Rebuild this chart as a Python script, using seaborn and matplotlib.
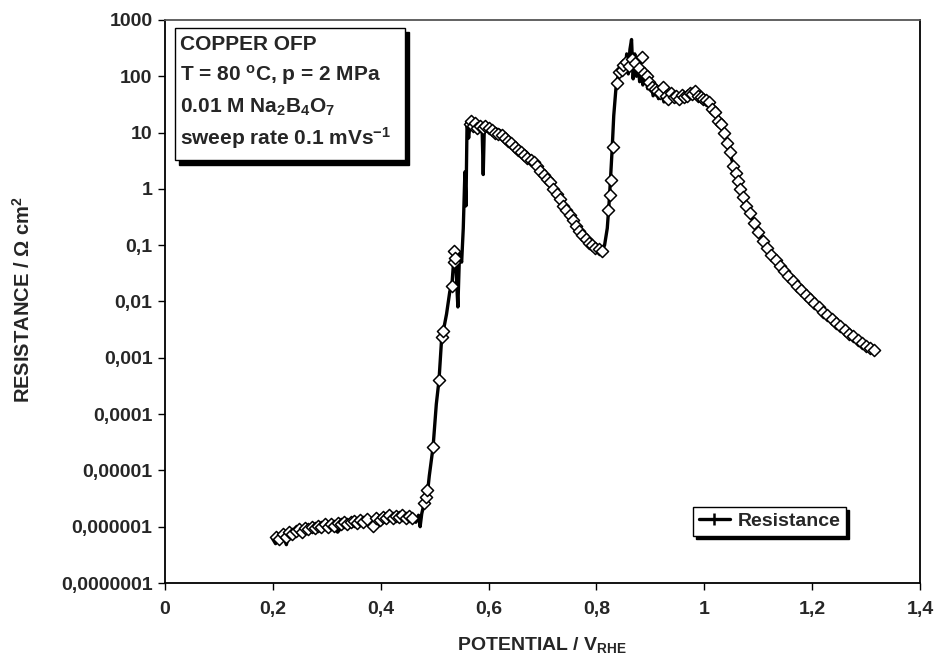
import numpy as np
import pandas as pd
import seaborn as sns
import matplotlib.pyplot as plt
from matplotlib.lines import Line2D
from matplotlib.patches import Rectangle
from matplotlib.ticker import NullLocator

# ---------------- data ----------------
line_potential = [
    0.200, 0.205, 0.210, 0.215, 0.220, 0.225, 0.230, 0.240, 0.250, 0.260,
    0.270, 0.280, 0.290, 0.300, 0.310, 0.320, 0.330, 0.340, 0.350, 0.360,
    0.370, 0.380, 0.390, 0.400, 0.410, 0.420, 0.430, 0.440, 0.450, 0.460,
    0.465, 0.470, 0.473, 0.476, 0.480, 0.486, 0.490, 0.497, 0.503, 0.508,
    0.513, 0.516, 0.522, 0.528, 0.532, 0.535, 0.538, 0.540, 0.543, 0.546,
    0.550, 0.553, 0.556, 0.558, 0.560, 0.563, 0.566, 0.570, 0.575, 0.580,
    0.585, 0.588, 0.590, 0.592, 0.600, 0.610, 0.620, 0.630, 0.640, 0.650,
    0.660, 0.670, 0.680, 0.690, 0.700, 0.710, 0.720, 0.730, 0.740, 0.750,
    0.760, 0.770, 0.780, 0.790, 0.800, 0.810, 0.815, 0.820, 0.823, 0.826,
    0.829, 0.832, 0.836, 0.840, 0.845, 0.850, 0.853, 0.856, 0.859, 0.862,
    0.865, 0.868, 0.871, 0.874, 0.877, 0.880, 0.883, 0.886, 0.890, 0.895,
    0.900, 0.905, 0.910, 0.915, 0.920, 0.925, 0.930, 0.935, 0.940, 0.945,
    0.950, 0.955, 0.960, 0.965, 0.970, 0.975, 0.980, 0.985, 0.990, 0.995,
    1.000, 1.005, 1.010, 1.020, 1.030, 1.040, 1.050, 1.060, 1.070, 1.080,
    1.090, 1.100, 1.110, 1.120, 1.130, 1.140, 1.150, 1.160, 1.170, 1.180,
    1.190, 1.200, 1.210, 1.220, 1.230, 1.240, 1.250, 1.260, 1.270, 1.280,
    1.290, 1.300, 1.310, 1.315,
]
line_resistance = [
    6.0e-7, 5.0e-7, 7.0e-7, 5.5e-7, 6.5e-7, 4.8e-7, 7.5e-7, 7.0e-7, 8.5e-7, 8.0e-7,
    9.5e-7, 8.5e-7, 1.0e-6, 9.0e-7, 1.05e-6, 8.0e-7, 1.05e-6, 1.0e-6, 1.1e-6, 1.2e-6,
    1.05e-6, 1.3e-6, 1.2e-6, 1.45e-6, 1.3e-6, 1.5e-6, 1.4e-6, 1.6e-6, 1.35e-6, 1.55e-6,
    1.2e-6, 1.6e-6, 1.0e-6, 1.7e-6, 2.5e-6, 3.5e-6, 8e-6, 2.6e-5, 1.5e-4, 4e-4,
    2.3e-3, 3.0e-3, 6e-3, 1.5e-2, 2.0e-2, 5e-2, 8e-2, 3e-2, 8e-3, 7e-2,
    5e-2, 0.2, 2.0, 0.5, 15, 8, 16, 14, 15, 12,
    13, 11, 1.8, 12, 13, 12, 11, 9, 7, 6,
    5, 4.5, 3.5, 3, 2.2, 1.6, 1.2, 0.8, 0.55, 0.38,
    0.25, 0.18, 0.13, 0.11, 0.085, 0.08, 0.1, 0.2, 0.5, 1.5,
    5, 20, 60, 100, 140, 180, 120, 250, 110, 300,
    450, 90, 250, 100, 180, 80, 150, 70, 110, 60,
    90, 45, 70, 40, 55, 35, 50, 38, 55, 35,
    45, 40, 50, 38, 55, 42, 60, 40, 55, 45,
    35, 40, 30, 25, 15, 8, 3.5, 1.8, 0.8, 0.45,
    0.28, 0.17, 0.11, 0.08, 0.06, 0.045, 0.034, 0.026, 0.020, 0.016,
    0.013, 0.010, 0.0082, 0.0066, 0.0055, 0.0045, 0.0037, 0.0031, 0.0026, 0.0022,
    0.0019, 0.0016, 0.0014, 0.0013,
]

marker_potential = [
    0.205, 0.212, 0.218, 0.224, 0.230, 0.236, 0.242, 0.248, 0.254, 0.260,
    0.266, 0.272, 0.278, 0.284, 0.290, 0.296, 0.302, 0.308, 0.314, 0.320,
    0.326, 0.332, 0.338, 0.344, 0.350, 0.356, 0.362, 0.368, 0.374, 0.386,
    0.392, 0.398, 0.404, 0.410, 0.416, 0.422, 0.428, 0.434, 0.440, 0.446,
    0.452, 0.458, 0.480, 0.484, 0.486, 0.497, 0.508, 0.513, 0.515, 0.532,
    0.535, 0.536, 0.537, 0.566, 0.568, 0.571, 0.575, 0.579, 0.584, 0.589,
    0.594, 0.600, 0.606, 0.612, 0.618, 0.624, 0.630, 0.636, 0.642, 0.648,
    0.654, 0.660, 0.666, 0.672, 0.678, 0.684, 0.690, 0.696, 0.702, 0.708,
    0.714, 0.720, 0.726, 0.732, 0.738, 0.744, 0.750, 0.756, 0.762, 0.768,
    0.774, 0.780, 0.786, 0.792, 0.798, 0.804, 0.810, 0.822, 0.825, 0.827,
    0.830, 0.838, 0.842, 0.847, 0.850, 0.855, 0.860, 0.866, 0.872, 0.878,
    0.884, 0.888, 0.893, 0.898, 0.903, 0.908, 0.913, 0.918, 0.923, 0.928,
    0.933, 0.938, 0.943, 0.948, 0.953, 0.958, 0.963, 0.968, 0.973, 0.978,
    0.983, 0.988, 0.993, 0.998, 1.003, 1.008, 1.014, 1.020, 1.026, 1.030,
    1.036, 1.042, 1.048, 1.054, 1.058, 1.062, 1.066, 1.072, 1.078, 1.085,
    1.092, 1.100, 1.108, 1.116, 1.124, 1.132, 1.140, 1.148, 1.156, 1.164,
    1.172, 1.180, 1.188, 1.196, 1.204, 1.212, 1.220, 1.228, 1.236, 1.244,
    1.252, 1.260, 1.268, 1.276, 1.284, 1.292, 1.300, 1.308, 1.314,
]
marker_resistance = [
    6.5e-7, 6.0e-7, 7.5e-7, 6.5e-7, 8.0e-7, 7.5e-7, 8.5e-7, 9.0e-7, 8.0e-7, 9.5e-7,
    9.0e-7, 1.0e-6, 9.5e-7, 1.05e-6, 1.0e-6, 1.1e-6, 1.0e-6, 1.1e-6, 1.05e-6, 1.15e-6,
    1.1e-6, 1.2e-6, 1.1e-6, 1.2e-6, 1.25e-6, 1.15e-6, 1.3e-6, 1.2e-6, 1.35e-6, 1.05e-6,
    1.4e-6, 1.3e-6, 1.5e-6, 1.4e-6, 1.6e-6, 1.45e-6, 1.55e-6, 1.5e-6, 1.6e-6, 1.45e-6,
    1.55e-6, 1.4e-6, 2.6e-6, 3.4e-6, 4.5e-6, 2.6e-5, 4.1e-4, 2.3e-3, 3.0e-3, 1.9e-2,
    5.0e-2, 7.8e-2, 6.0e-2, 14, 16, 13, 15, 12, 13, 12,
    13, 12, 11, 10, 9.5, 9, 8, 7, 6.5, 5.5,
    5, 4.5, 4, 3.5, 3.3, 3, 2.5, 2.1, 1.8, 1.5,
    1.3, 1.0, 0.8, 0.65, 0.5, 0.42, 0.35, 0.28, 0.22, 0.18,
    0.15, 0.13, 0.11, 0.1, 0.09, 0.085, 0.08, 0.42, 0.78, 1.45,
    5.6, 77, 120, 130, 160, 180, 150, 200, 170, 140,
    220, 115, 100, 80, 65, 60, 55, 50, 65, 45,
    40, 50, 42, 45, 40, 47, 42, 45, 50, 48,
    55, 45, 42, 40, 38, 35, 26, 23, 16, 14,
    10, 6.6, 4.5, 2.5, 1.9, 1.4, 1.0, 0.73, 0.5, 0.37,
    0.25, 0.17, 0.12, 0.09, 0.068, 0.055, 0.043, 0.035, 0.028, 0.023,
    0.019, 0.016, 0.013, 0.011, 0.0093, 0.0079, 0.0066, 0.0057, 0.0049, 0.0042,
    0.0036, 0.0031, 0.0027, 0.0024, 0.0021, 0.0018, 0.0016, 0.0015, 0.0014,
]

x_ticks = [0, 0.2, 0.4, 0.6, 0.8, 1.0, 1.2, 1.4]
x_tick_labels = ["0", "0,2", "0,4", "0,6", "0,8", "1", "1,2", "1,4"]
y_ticks = [1e-7, 1e-6, 1e-5, 1e-4, 1e-3, 1e-2, 1e-1, 1, 10, 100, 1000]
y_tick_labels = ["0,0000001", "0,000001", "0,00001", "0,0001", "0,001",
                 "0,01", "0,1", "1", "10", "100", "1000"]

info_lines = [
    "COPPER OFP",
    r"T = 80 $^{\mathrm{o}}$C, p = 2 MPa",
    r"0.01 M Na$_{\mathrm{2}}$B$_{\mathrm{4}}$O$_{\mathrm{7}}$",
    r"sweep rate 0.1 mVs$^{\mathrm{-1}}$",
]

# ---------------- style ----------------
sns.set_style("white")
plt.rcParams["font.family"] = ["Liberation Sans", "DejaVu Sans"]
plt.rcParams["font.weight"] = "bold"
plt.rcParams["mathtext.fontset"] = "custom"
plt.rcParams["mathtext.rm"] = "Liberation Sans:bold"
plt.rcParams["mathtext.it"] = "Liberation Sans:bold"
plt.rcParams["mathtext.bf"] = "Liberation Sans:bold"
plt.rcParams["mathtext.default"] = "rm"

df_line = pd.DataFrame({"potential": line_potential, "resistance": line_resistance})
df_mark = pd.DataFrame({"potential": marker_potential, "resistance": marker_resistance})

fig = plt.figure(figsize=(9.36, 6.66), dpi=100)
ax = fig.add_axes([0.1763, 0.1246, 0.8067, 0.8454])

sns.lineplot(data=df_line, x="potential", y="resistance", sort=False,
             estimator=None, color="black", linewidth=2.4, ax=ax, zorder=2)
sns.scatterplot(data=df_mark, x="potential", y="resistance", marker="D",
                s=38, facecolor="white", edgecolor="black", linewidth=1.1,
                ax=ax, zorder=3)

ax.set_yscale("log")
ax.set_xlim(0, 1.4)
ax.set_ylim(1e-7, 1e3)
ax.set_xticks(x_ticks)
ax.set_xticklabels(x_tick_labels)
ax.set_yticks(y_ticks)
ax.set_yticklabels(y_tick_labels)
ax.yaxis.set_minor_locator(NullLocator())
ax.xaxis.set_minor_locator(NullLocator())
ax.tick_params(axis="both", which="major", direction="out", length=5,
               width=1, color="black", labelsize=14)
ax.tick_params(axis="x", pad=8)
ax.tick_params(axis="y", pad=4)
for lab in ax.get_xticklabels() + ax.get_yticklabels():
    lab.set_fontweight("bold")
ax.tick_params(left=True, bottom=True)

for side in ["left", "bottom", "right"]:
    ax.spines[side].set_color("black")
    ax.spines[side].set_linewidth(1.3)
ax.spines["top"].set_color("#555555")
ax.spines["top"].set_linewidth(1.3)

ax.set_xlabel(r"POTENTIAL / V$_{\mathrm{RHE}}$", fontsize=14, fontweight="bold")
ax.set_ylabel(r"RESISTANCE / $\Omega$ cm$^{\mathrm{2}}$", fontsize=14.5, fontweight="bold")
ax.xaxis.set_label_coords(0.5, -0.093)
ax.yaxis.set_label_coords(-0.174, 0.503)

# info box with shadow
shadow = Rectangle((0.0185, 0.743), 0.305, 0.235, transform=ax.transAxes,
                   facecolor="black", edgecolor="black", zorder=4)
box = Rectangle((0.0132, 0.751), 0.305, 0.235, transform=ax.transAxes,
                facecolor="white", edgecolor="black", linewidth=1.0, zorder=5)
ax.add_patch(shadow)
ax.add_patch(box)
ys = [0.957, 0.902, 0.845, 0.790]
for txt, yy in zip(info_lines, ys):
    ax.text(0.020, yy, txt, transform=ax.transAxes, fontsize=15,
            fontweight="bold", va="center", ha="left", zorder=6)

# legend
handle = Line2D([], [], color="black", linewidth=2.4, marker="+",
                markersize=9, markeredgewidth=1.8)
leg = ax.legend([handle], ["Resistance"], loc="lower right",
                bbox_to_anchor=(0.915, 0.066), frameon=True, fancybox=False,
                edgecolor="black", framealpha=1, borderpad=0.3,
                handlelength=1.6, handletextpad=0.4,
                shadow={"color": "black", "alpha": 1.0},
                prop={"size": 14, "weight": "bold"})
leg.get_frame().set_linewidth(1.0)

fig.savefig("out.png", dpi=100)
